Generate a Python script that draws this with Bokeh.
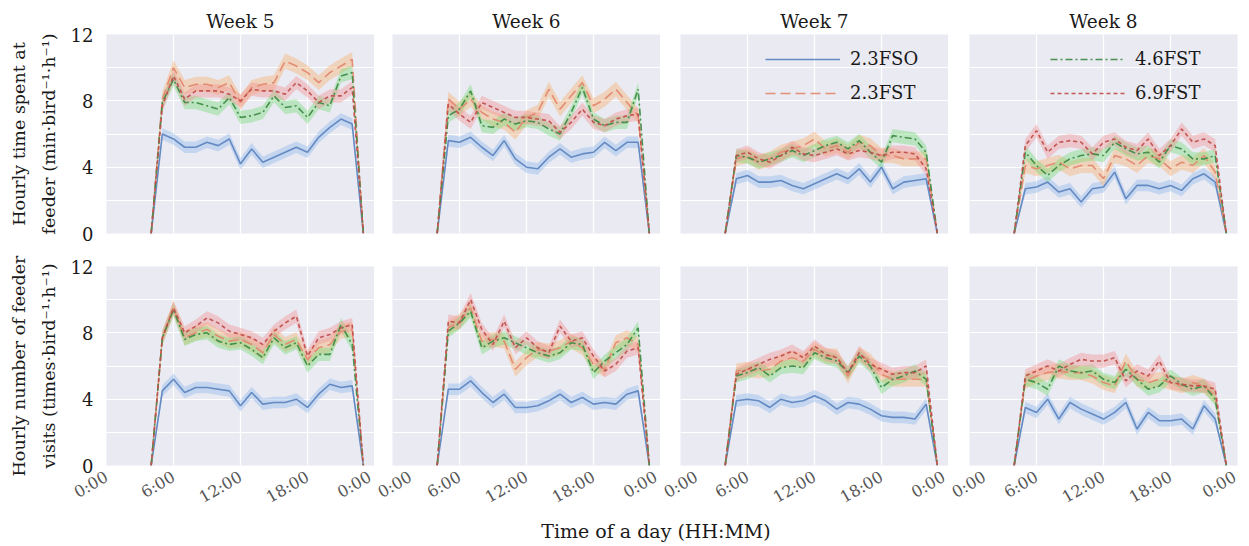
import math
from bokeh.plotting import figure
from bokeh.models import FixedTicker, Legend, LegendItem, Div
from bokeh.layouts import column, row
from bokeh.embed import file_html
from bokeh.resources import INLINE

# ---------------- data ----------------
HOURS = [4, 5, 6, 7, 8, 9, 10, 11, 12, 13, 14, 15, 16, 17, 18, 19, 20, 21, 22, 23]
SERIES = ["2.3FSO", "2.3FST", "4.6FST", "6.9FST"]
WEEKS = ["Week 5", "Week 6", "Week 7", "Week 8"]
X_TICKS = [0, 6, 12, 18, 24]
X_TICK_LABELS = ["0:00", "6:00", "12:00", "18:00", "0:00"]
Y_TICKS = [0, 4, 8, 12]
Y_LABEL_TIME = "Hourly time spent at\nfeeder (min\u00b7bird\u207b\u00b9\u00b7h\u207b\u00b9)"
Y_LABEL_VISITS = "Hourly number of feeder\nvisits (times\u00b7bird\u207b\u00b9\u00b7h\u207b\u00b9)"
X_LABEL = "Time of a day (HH:MM)"
# half-width of the shaded band of each series
BAND_HALF = {"2.3FSO": 0.35, "2.3FST": 0.45, "4.6FST": 0.4, "6.9FST": 0.4}

# hourly time spent at feeder
TIME_W5_FSO = [0, 6.0, 5.7, 5.2, 5.2, 5.5, 5.3, 5.7, 4.2, 5.1, 4.3, 4.6, 4.9, 5.2, 4.9, 5.8, 6.4, 6.9, 6.6, 0]
TIME_W5_FST23 = [0, 8.1, 10.0, 8.8, 9.0, 9.0, 8.8, 9.1, 7.9, 8.8, 9.0, 9.1, 10.4, 10.1, 9.7, 9.1, 9.7, 10.1, 10.5, 0]
TIME_W5_FST46 = [0, 7.9, 9.3, 7.9, 7.9, 7.7, 7.5, 8.2, 7.0, 7.1, 7.3, 8.3, 7.6, 7.7, 7.0, 7.9, 7.7, 9.5, 9.7, 0]
TIME_W5_FST69 = [0, 7.7, 9.5, 8.1, 8.6, 8.6, 8.6, 8.4, 8.0, 8.7, 8.6, 8.6, 8.4, 9.1, 8.6, 7.9, 8.3, 8.3, 8.8, 0]

TIME_W6_FSO = [0, 5.6, 5.5, 5.8, 5.2, 4.7, 5.6, 4.5, 4.0, 3.9, 4.6, 5.1, 4.6, 4.8, 4.9, 5.5, 5.0, 5.5, 5.5, 0]
TIME_W6_FST23 = [0, 8.1, 7.5, 8.1, 7.3, 6.9, 6.7, 6.1, 7.0, 7.3, 8.7, 7.5, 8.3, 9.1, 7.7, 8.1, 8.7, 7.9, 7.1, 0]
TIME_W6_FST46 = [0, 7.1, 7.5, 8.6, 6.5, 6.4, 6.9, 6.6, 6.8, 6.7, 6.3, 6.0, 7.3, 8.8, 6.9, 6.5, 6.7, 6.7, 8.7, 0]
TIME_W6_FST69 = [0, 7.8, 7.2, 6.7, 7.9, 7.6, 7.3, 7.0, 7.0, 6.9, 6.8, 6.1, 6.7, 7.5, 6.7, 6.5, 6.9, 7.1, 7.2, 0]

TIME_W7_FSO = [0, 3.3, 3.5, 3.1, 3.1, 3.2, 2.9, 2.7, 3.0, 3.3, 3.6, 3.3, 3.9, 3.1, 4.0, 2.7, 3.1, 3.2, 3.3, 0]
TIME_W7_FST23 = [0, 4.5, 4.7, 4.3, 4.5, 4.9, 5.1, 5.3, 5.7, 5.1, 5.3, 4.9, 5.5, 5.3, 4.7, 4.7, 4.5, 4.5, 4.5, 0]
TIME_W7_FST46 = [0, 4.7, 4.6, 4.3, 4.5, 4.7, 5.0, 4.7, 5.0, 5.3, 5.5, 5.1, 5.6, 4.9, 4.3, 5.9, 5.8, 5.7, 4.9, 0]
TIME_W7_FST69 = [0, 4.7, 4.9, 4.5, 4.3, 4.7, 5.2, 4.8, 4.7, 4.9, 5.1, 4.8, 5.0, 4.9, 4.7, 4.9, 4.9, 4.8, 3.9, 0]

TIME_W8_FSO = [0, 2.7, 2.8, 3.1, 2.5, 2.7, 1.9, 2.7, 2.8, 3.7, 2.1, 2.9, 2.9, 2.7, 2.9, 2.6, 3.3, 3.6, 3.1, 0]
TIME_W8_FST23 = [0, 4.1, 3.9, 4.1, 4.3, 3.9, 4.1, 4.1, 3.3, 4.7, 4.5, 4.1, 4.7, 4.5, 3.9, 4.3, 4.1, 4.7, 3.7, 0]
TIME_W8_FST46 = [0, 4.9, 4.1, 3.5, 4.1, 4.5, 4.7, 4.8, 4.7, 5.5, 5.1, 4.8, 4.9, 4.3, 5.3, 5.1, 4.5, 4.5, 4.7, 0]
TIME_W8_FST69 = [0, 5.3, 6.2, 4.9, 5.5, 5.6, 5.5, 4.8, 5.5, 5.7, 5.2, 5.0, 5.7, 4.7, 5.3, 6.3, 5.5, 5.7, 5.3, 0]

# hourly number of feeder visits
VISITS_W5_FSO = [0, 4.5, 5.2, 4.4, 4.7, 4.7, 4.6, 4.5, 3.6, 4.4, 3.7, 3.8, 3.8, 4.0, 3.5, 4.3, 4.9, 4.7, 4.8, 0]
VISITS_W5_FST23 = [0, 7.7, 9.5, 7.7, 8.0, 8.2, 7.8, 7.5, 7.6, 7.3, 6.8, 7.9, 7.3, 7.6, 6.4, 7.1, 7.3, 8.1, 8.2, 0]
VISITS_W5_FST46 = [0, 7.7, 9.4, 7.6, 7.9, 8.0, 7.5, 7.3, 7.4, 7.0, 6.5, 7.7, 7.1, 7.4, 6.0, 6.7, 6.7, 8.5, 7.3, 0]
VISITS_W5_FST69 = [0, 7.7, 9.5, 8.0, 8.4, 8.9, 8.6, 8.1, 7.9, 7.7, 7.3, 8.1, 8.6, 9.0, 6.6, 7.7, 7.9, 8.3, 8.5, 0]

VISITS_W6_FSO = [0, 4.6, 4.6, 5.1, 4.4, 3.8, 4.3, 3.5, 3.5, 3.6, 3.9, 4.3, 3.8, 4.1, 3.7, 3.8, 3.7, 4.3, 4.5, 0]
VISITS_W6_FST23 = [0, 8.3, 8.7, 9.5, 7.5, 7.6, 7.5, 5.8, 6.5, 7.0, 6.9, 7.1, 7.5, 7.1, 6.1, 5.8, 7.4, 7.7, 7.3, 0]
VISITS_W6_FST46 = [0, 8.1, 8.6, 9.3, 7.1, 7.5, 7.7, 7.4, 7.1, 6.8, 6.6, 6.8, 7.4, 7.3, 5.6, 6.3, 6.8, 7.3, 8.3, 0]
VISITS_W6_FST69 = [0, 8.7, 8.6, 10.0, 8.2, 7.3, 8.7, 7.1, 7.7, 7.1, 6.8, 8.4, 7.5, 7.7, 6.6, 5.7, 6.1, 6.9, 7.1, 0]

VISITS_W7_FSO = [0, 3.9, 4.0, 3.9, 3.5, 4.0, 3.8, 3.9, 4.2, 3.9, 3.4, 3.8, 3.7, 3.4, 3.0, 2.9, 2.9, 2.8, 3.7, 0]
VISITS_W7_FST23 = [0, 5.7, 5.8, 5.7, 5.8, 6.3, 6.5, 6.3, 7.0, 6.6, 6.6, 5.4, 6.7, 6.3, 5.5, 5.2, 5.2, 5.2, 5.2, 0]
VISITS_W7_FST46 = [0, 5.4, 5.6, 5.9, 5.4, 5.9, 6.0, 5.9, 6.8, 6.5, 6.3, 5.6, 6.6, 6.0, 4.7, 5.2, 5.4, 5.7, 5.2, 0]
VISITS_W7_FST69 = [0, 5.5, 5.8, 6.1, 6.4, 6.6, 6.9, 6.5, 7.2, 6.7, 6.5, 5.6, 6.8, 6.1, 5.8, 5.5, 5.6, 5.6, 6.0, 0]

VISITS_W8_FSO = [0, 3.5, 3.2, 4.0, 2.8, 3.8, 3.4, 3.1, 2.8, 3.2, 3.8, 2.2, 3.2, 2.7, 2.7, 2.8, 2.2, 3.6, 2.8, 0]
VISITS_W8_FST23 = [0, 5.1, 5.4, 5.6, 5.7, 5.6, 5.6, 5.4, 5.0, 4.8, 6.3, 5.2, 5.0, 5.2, 5.0, 4.8, 5.0, 4.8, 4.2, 0]
VISITS_W8_FST46 = [0, 5.2, 5.0, 4.6, 6.0, 5.7, 5.6, 5.7, 5.2, 5.0, 5.8, 5.2, 4.6, 4.8, 5.4, 4.9, 4.6, 4.8, 4.0, 0]
VISITS_W8_FST69 = [0, 5.4, 5.7, 6.0, 5.7, 6.1, 6.4, 6.3, 6.3, 6.5, 5.1, 5.7, 5.4, 6.3, 5.0, 4.9, 4.8, 4.8, 4.6, 0]

TIME_DATA = [
    [TIME_W5_FSO, TIME_W5_FST23, TIME_W5_FST46, TIME_W5_FST69],
    [TIME_W6_FSO, TIME_W6_FST23, TIME_W6_FST46, TIME_W6_FST69],
    [TIME_W7_FSO, TIME_W7_FST23, TIME_W7_FST46, TIME_W7_FST69],
    [TIME_W8_FSO, TIME_W8_FST23, TIME_W8_FST46, TIME_W8_FST69],
]
VISITS_DATA = [
    [VISITS_W5_FSO, VISITS_W5_FST23, VISITS_W5_FST46, VISITS_W5_FST69],
    [VISITS_W6_FSO, VISITS_W6_FST23, VISITS_W6_FST46, VISITS_W6_FST69],
    [VISITS_W7_FSO, VISITS_W7_FST23, VISITS_W7_FST46, VISITS_W7_FST69],
    [VISITS_W8_FSO, VISITS_W8_FST23, VISITS_W8_FST46, VISITS_W8_FST69],
]

# ---------------- styles ----------------
FONT = "DejaVu Serif"
LINE_COLORS = ["#5f86c0", "#e3896f", "#3f8c48", "#c0504d"]
BAND_COLORS = ["#8db7ea", "#f7b06a", "#72dd72", "#f29090"]
DASHES = ["solid", "10 5", "7 3 2 3", "4 3"]
BG = "#EAEAF2"

FRAME_W = 268
FRAME_H = 199
LEFT_BORDERS = [106, 18, 20, 21]
RIGHT_BORDERS = [0, 0, 0, 2]


def make_panel(col, row_idx, series_values):
    top = row_idx == 0
    p = figure(
        frame_width=FRAME_W, frame_height=FRAME_H,
        x_range=(0, 24), y_range=(0, 12),
        output_backend="svg", toolbar_location=None,
        min_border_left=LEFT_BORDERS[col], min_border_right=RIGHT_BORDERS[col],
        min_border_top=34 if top else 23, min_border_bottom=10 if top else 40,
        background_fill_color=BG, border_fill_color="white",
        outline_line_color=None,
    )
    if top:
        p.title.text = WEEKS[col]
        p.title.align = "center"
        p.title.text_font = FONT
        p.title.text_font_size = "18.5px"
        p.title.text_font_style = "normal"
        p.title.text_color = "#1a1a1a"
        p.title.standoff = 6

    # grid
    p.xgrid.ticker = FixedTicker(ticks=X_TICKS)
    p.ygrid.ticker = FixedTicker(ticks=Y_TICKS, minor_ticks=[2, 6, 10])
    for g in (p.xgrid, p.ygrid):
        g.grid_line_color = "white"
        g.grid_line_width = 1.2
    p.ygrid.minor_grid_line_color = "white"
    p.ygrid.minor_grid_line_width = 1.0

    # axes
    xa = p.xaxis[0]
    xa.ticker = FixedTicker(ticks=X_TICKS)
    xa.major_label_overrides = {t: l for t, l in zip(X_TICKS, X_TICK_LABELS)}
    xa.major_label_orientation = math.pi / 6
    xa.major_label_text_font = FONT
    xa.major_label_text_font_size = "16px"
    xa.major_label_text_color = "#555555"
    xa.axis_line_color = None
    xa.major_tick_line_color = None
    xa.minor_tick_line_color = None
    xa.major_label_standoff = 4
    xa.visible = not top

    ya = p.yaxis[0]
    ya.ticker = FixedTicker(ticks=Y_TICKS)
    ya.major_label_text_font = FONT
    ya.major_label_text_font_size = "18px"
    ya.major_label_text_color = "#1a1a1a"
    ya.axis_line_color = None
    ya.major_tick_line_color = None
    ya.minor_tick_line_color = None
    ya.major_label_standoff = 7
    ya.axis_label = Y_LABEL_TIME if top else Y_LABEL_VISITS
    ya.axis_label_text_font = FONT
    ya.axis_label_text_font_size = "17.5px"
    ya.axis_label_text_font_style = "normal"
    ya.axis_label_text_color = "#1a1a1a"
    ya.axis_label_text_line_height = 1.5
    ya.axis_label_standoff = 9
    ya.visible = col == 0

    # bands
    for i, name in enumerate(SERIES):
        vals = series_values[i]
        h = BAND_HALF[name]
        lower = [v - h if v > 0 else v for v in vals]
        upper = [v + h if v > 0 else v for v in vals]
        p.varea(x=HOURS, y1=lower, y2=upper, fill_color=BAND_COLORS[i], fill_alpha=0.4)

    renderers = []
    for i, name in enumerate(SERIES):
        r = p.line(HOURS, series_values[i], line_color=LINE_COLORS[i],
                   line_width=1.6, line_dash=DASHES[i], line_alpha=0.95)
        renderers.append(r)

    if top and col in (2, 3):
        idx = [0, 1] if col == 2 else [2, 3]
        items = [LegendItem(label=SERIES[k], renderers=[renderers[k]]) for k in idx]
        leg = Legend(items=items, location=(85 if col == 2 else 81, 130),
                     padding=0, margin=0, spacing=13,
                     label_height=20, glyph_height=20, glyph_width=75,
                     label_standoff=10,
                     label_text_font=FONT, label_text_font_size="18px",
                     label_text_color="#1a1a1a",
                     background_fill_alpha=0, border_line_alpha=0)
        p.add_layout(leg, "center")
    return p


top_row = [make_panel(c, 0, TIME_DATA[c]) for c in range(4)]
bottom_row = [make_panel(c, 1, VISITS_DATA[c]) for c in range(4)]

xlabel = Div(
    text=('<div style="position:absolute; left:656px; top:4px; transform:translateX(-50%);'
          ' white-space:nowrap; font-family:\'DejaVu Serif\'; font-size:19px; line-height:19px;'
          ' color:#1a1a1a">' + X_LABEL + '</div>'),
    width=1239, height=30, margin=(0, 0, 0, 0),
    styles={"position": "relative"},
)

layout = column(row(*top_row, spacing=0), row(*bottom_row, spacing=0), xlabel, spacing=0)

html = file_html(layout, INLINE, title="Feeder activity")
with open("out.html", "w") as f:
    f.write(html)
